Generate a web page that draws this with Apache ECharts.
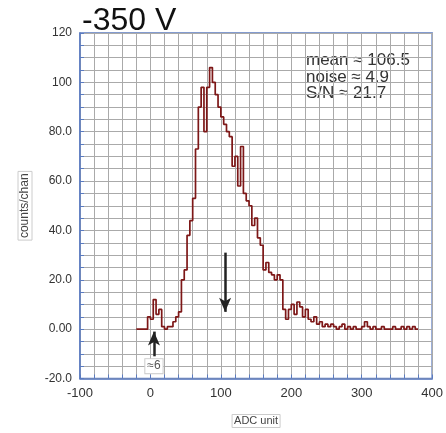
<!DOCTYPE html>
<html>
<head>
<meta charset="UTF-8">
<title>-350 V</title>
<script src="https://cdn.jsdelivr.net/npm/echarts@6/dist/echarts.min.js"></script>
<style>
    body { margin: 0; background: #fff; }
    #chart { width: 446px; height: 433px; }
</style>
</head>
<body>
<div id="chart"></div>
<script>
// histogram bins: first edge and width (ADC units)
const binStart = -20;
const binWidth = 4;
// counts per bin
const counts = [
    0, 0, 0, 0, 5, 4, 12, 6, 8, 1,
    0, 1, 1, 3, 5, 7, 20, 24, 38, 44,
    53, 73, 90, 98, 80, 98, 106, 100, 95, 90,
    86, 83, 80, 78, 66, 70, 58, 74, 55, 52,
    50, 42, 45, 37, 34, 24, 27, 23, 22, 20,
    22, 20, 8, 4, 8, 10, 6, 11, 9, 5,
    8, 4, 3, 5, 2, 3, 1, 2, 1, 2,
    1, 0, 1, 2, 0, 1, 0, 1, 0, 0,
    1, 3, 1, 0, 1, 0, 0, 1, 0, 0,
    0, 1, 0, 0, 1, 0, 1, 0, 1, 0
];
const statLines = ['mean \u2248 106.5', 'noise \u2248 4.9', 'S/N \u2248 21.7'];
const arrowMean = [[106, 31], [106, 7]];
const arrowNoise = [[5, -11], [5, -1]];

const steps = counts.map((c, i) => [binStart + i * binWidth, c]);
steps.push([binStart + counts.length * binWidth, counts[counts.length - 1]]);

const blue = '#5b7bc0';
const chart = echarts.init(document.getElementById('chart'));

chart.setOption({
    animation: false,
    title: {
        text: '-350 V',
        left: 77, top: 0,
        textStyle: { fontFamily: 'Liberation Sans', fontSize: 32, fontWeight: 'normal', color: '#111' }
    },
    grid: {
        left: 80, right: 10, top: 33, bottom: 49,
        show: true, borderColor: blue, borderWidth: 1.5
    },
    xAxis: {
        type: 'value', min: -100, max: 400, interval: 20,
        name: 'ADC unit', nameLocation: 'middle', nameGap: 36,
        nameTextStyle: {
            fontFamily: 'Liberation Sans', fontSize: 11, color: '#444',
            borderColor: '#ccc', borderWidth: 1, padding: [1, 2]
        },
        axisLine: { onZero: false, lineStyle: { color: blue, width: 1.5 } },
        axisTick: { inside: true, length: 4, lineStyle: { color: blue } },
        axisLabel: {
            fontFamily: 'Liberation Sans', fontSize: 13, color: '#333', margin: 8,
            formatter: v => (v % 100 === 0 ? String(v) : '')
        },
        splitLine: { lineStyle: { color: '#aaa', width: 1 } }
    },
    yAxis: {
        type: 'value', min: -20, max: 120, interval: 5,
        name: 'counts/chan', nameLocation: 'middle', nameGap: 48,
        nameTextStyle: {
            fontFamily: 'Liberation Sans', fontSize: 12, color: '#444',
            borderColor: '#ccc', borderWidth: 1, padding: [1, 2]
        },
        axisLine: { show: true, onZero: false, lineStyle: { color: blue, width: 1.5 } },
        axisTick: { show: true, inside: true, length: 4, lineStyle: { color: blue } },
        axisLabel: {
            fontFamily: 'Liberation Sans', fontSize: 12, color: '#333', margin: 8,
            formatter: v => (v % 20 === 0 ? v.toPrecision(3) : '')
        },
        splitLine: { lineStyle: { color: '#aaa', width: 1 } }
    },
    series: [{
        type: 'line',
        step: 'end',
        data: steps,
        symbol: 'none',
        lineStyle: { color: '#7d1717', width: 1.7 },
        markLine: {
            silent: true,
            symbol: ['none', 'arrow'],
            symbolSize: [9, 14],
            label: { show: false },
            lineStyle: { color: '#222', width: 2.5, type: 'solid' },
            data: [
                [{ coord: arrowMean[0] }, { coord: arrowMean[1] }],
                [{ coord: arrowNoise[0] }, { coord: arrowNoise[1] }]
            ]
        },
        markPoint: {
            silent: true,
            symbol: 'rect', symbolSize: 1,
            itemStyle: { color: 'transparent' },
            data: [{
                coord: [5, -15],
                label: {
                    show: true, formatter: '\u22486',
                    fontFamily: 'Liberation Sans', fontSize: 12, color: '#555',
                    backgroundColor: '#fff', borderColor: '#ccc', borderWidth: 1, padding: [1, 2]
                }
            }]
        }
    }],
    graphic: [{
        type: 'text', left: 306, top: 52,
        style: {
            text: statLines.join('\n'),
            font: '17px "Liberation Sans"', fill: '#333', lineHeight: 16.5
        }
    }]
});
</script>
</body>
</html>
